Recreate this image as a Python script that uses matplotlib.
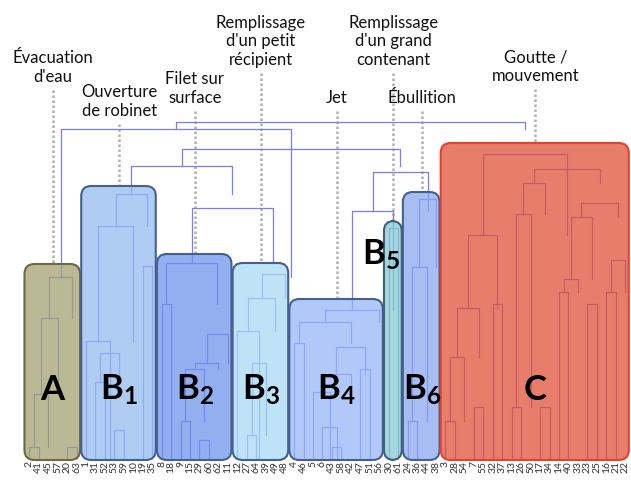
import matplotlib
matplotlib.use('Agg')
import matplotlib.pyplot as plt
from matplotlib.patches import FancyBboxPatch
from matplotlib import colors as mcolors

plt.rcParams['font.family'] = ['Lato', 'DejaVu Sans']
plt.rcParams['mathtext.fontset'] = 'custom'
plt.rcParams['mathtext.bf'] = 'Lato:bold'
plt.rcParams['mathtext.rm'] = 'Lato'

# leaf order along the bottom
leaf_labels = [2, 41, 45, 57, 20, 63,
               1, 31, 52, 53, 59, 10, 19, 35,
               8, 18, 9, 15, 29, 60, 62, 11,
               12, 27, 64, 39, 49, 48,
               4, 46, 5, 6, 43, 58, 42, 47, 51, 56,
               30, 61,
               24, 36, 44, 38,
               3, 28, 54, 7, 55, 32, 37, 13, 26, 50, 17, 34, 14, 40, 33, 23, 25, 16, 21, 22]

# sub-trees: (left, right, merge height)
tree_A = ((((2, 41, 11), 45, 64), 57, 140), (20, 63, 11), 181)
tree_B1 = (((1, ((31, 52, 76), (53, 59, 28), 105), 117), 10, 232), (19, 35, 192), 264)
tree_B2 = ((8, 18, 154), ((((9, 15, 37), (29, 60, 18), 89), 62, 95), 11, 124), 195)
tree_B3 = (((12, ((27, 64, 23), 39, 95), 127), 49, 160), 48, 184)
tree_B4 = (((4, 46, 115), (((5, (6, (43, 58, 11), 31), 66), 42, 84), (47, 51, 89), 111), 136), 56, 148)
tree_B5 = (30, 61, 230)
tree_B6 = (((24, 36, 37), 44, 191), 38, 259)
c_left = ((((3, 28, 37), 54, 101), (7, 55, 51), 150), (32, 37, 154), 223)
c_right = (((((13, 26, 51), 50, 244), (17, 34, 51), 275)),
           ((((14, 40, 166), 33, 179), (23, 25, 154), 241), ((16, 21, 166), 22, 198), 255), 289)
tree_C = (c_left, c_right, 304)

# joins between the groups
n_b2b3 = (tree_B2, tree_B3, 250)
n_b123 = (tree_B1, n_b2b3, 292)
n_b45 = (tree_B4, tree_B5, 247)
n_b456 = (n_b45, tree_B6, 286)
n_b = (n_b123, n_b456, 309)
n_ab = (tree_A, n_b, 329)
root = (n_ab, tree_C, 336)

group_names = ['A', 'B1', 'B2', 'B3', 'B4', 'B5', 'B6', 'C']
group_trees = [tree_A, tree_B1, tree_B2, tree_B3, tree_B4, tree_B5, tree_B6, tree_C]
group_tops = [194, 272, 204, 195, 159, 237, 266, 315]
group_texts = ['$\\mathbf{A}$', '$\\mathbf{B_1}$', '$\\mathbf{B_2}$', '$\\mathbf{B_3}$',
               '$\\mathbf{B_4}$', '$\\mathbf{B_5}$', '$\\mathbf{B_6}$', '$\\mathbf{C}$']
group_fill = ['#bbb995', '#afcdf4', '#94aff0', '#bee3f7', '#b2c8fa', '#a4d7dc', '#a8bdf2', '#e87d6a']
group_edge = ['#6b6a42', '#45608f', '#45608f', '#45608f', '#45608f', '#3f6278', '#45608f', '#e3432b']

annot_texts = ["Évacuation\nd'eau", "Ouverture\nde robinet", "Filet sur\nsurface",
               "Remplissage\nd'un petit\nrécipient", "Jet", "Remplissage\nd'un grand\ncontenant",
               "Ébullition", "Goutte /\nmouvement"]
annot_bottom = [373, 339, 352, 390, 352, 390, 352, 374]

# pixel layout of the picture
W, H = 631, 484
x0_px, step_px, base_px = 29.2, 9.46, 458
alpha = 0.75
link_color = '#7b7bf5'

pos = {lab: i for i, lab in enumerate(leaf_labels)}

fig = plt.figure(figsize=(W / 100, H / 100), dpi=100)
ax = fig.add_axes([0, 0, 1, 1])
ax.set_xlim(-x0_px / step_px, (W - x0_px) / step_px)
ax.set_ylim(base_px - H, base_px)
ax.axis('off')


def leaves_of(node):
    if isinstance(node, int):
        return [node]
    return leaves_of(node[0]) + leaves_of(node[1])


def draw(node):
    if isinstance(node, int):
        return pos[node], 0.0
    xl, hl = draw(node[0])
    xr, hr = draw(node[1])
    h = node[2]
    ax.plot([xl, xl, xr, xr], [hl, h, h, hl], color=link_color, lw=0.9, zorder=2)
    return (xl + xr) / 2, h


draw(root)

# coloured boxes over the groups
for i, tree in enumerate(group_trees):
    idx = [pos[l] for l in leaves_of(tree)]
    lo, hi = min(idx), max(idx)
    tgt = mcolors.to_rgb(group_fill[i])
    base = tuple(min(1, max(0, (c - (1 - alpha)) / alpha)) for c in tgt)
    box = FancyBboxPatch((lo - 0.5, -2), hi - lo + 0.88, group_tops[i] + 2,
                         boxstyle=f"round,pad=0,rounding_size={10 / step_px}",
                         mutation_aspect=step_px,
                         fc=(*base, alpha), ec=group_edge[i], lw=1.5, zorder=3)
    ax.add_patch(box)
    cx = (lo + hi) / 2
    if group_names[i] == 'B5':
        ax.text(cx - 1.3, 193, group_texts[i], fontsize=25, ha='center', va='baseline', zorder=5)
    else:
        ax.text(cx, 58, group_texts[i], fontsize=25, ha='center', va='baseline', zorder=5)
    # annotation above each group
    ax.text(cx, annot_bottom[i], annot_texts[i], fontsize=12, ha='center', va='bottom',
            linespacing=1.2, color='#111111')
    ax.plot([cx, cx], [annot_bottom[i] - 5, group_tops[i]], color='#b0b0b0',
            lw=1.8, linestyle=(0, (1, 1)), zorder=1)

# leaf labels
for lab in leaf_labels:
    ax.text(pos[lab], -3, str(lab), rotation=90, fontsize=7.5, ha='center', va='top',
            color='#333333')

fig.savefig('out.png', dpi=100)
